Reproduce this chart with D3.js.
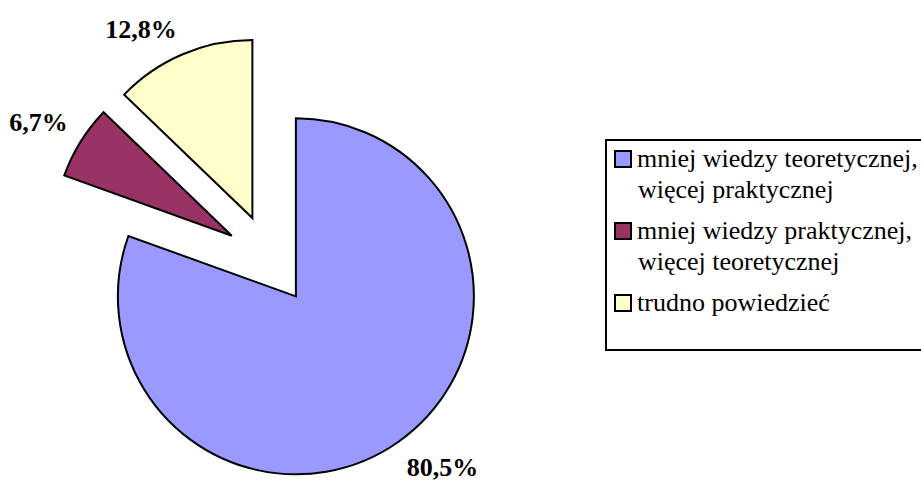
<!DOCTYPE html>
<html>
<head>
<meta charset="utf-8">
<script src="https://cdn.jsdelivr.net/npm/d3@7"></script>
</head>
<body style="margin:0; background:#ffffff">
<svg id="chart" width="921" height="481" style="display:block; font-family:'Liberation Serif'"></svg>
<script>
// Answer categories and their shares (%)
const categories = [
  ["mniej wiedzy teoretycznej,", "więcej praktycznej"],
  ["mniej wiedzy praktycznej,", "więcej teoretycznej"],
  ["trudno powiedzieć"]
];
const values = [80.5, 6.7, 12.8];
const valueLabels = ["80,5%", "6,7%", "12,8%"];
const colors = ["#9999FF", "#993366", "#FFFFCC"];

const svg = d3.select("#chart");

// Pie geometry
const cx = 270, cy = 259.5;
const radius = 178;
const explode = 45;
const labelGap = 15;

const pie = d3.pie().sort(null).value(d => d)(values);
const arc = d3.arc().innerRadius(0).outerRadius(radius);

const g = svg.append("g").attr("transform", `translate(${cx},${cy})`);

pie.forEach((p, i) => {
  const mid = (p.startAngle + p.endAngle) / 2;
  const dx = Math.sin(mid), dy = -Math.cos(mid);
  const ox = dx * explode, oy = dy * explode;

  g.append("path")
    .attr("d", arc(p))
    .attr("transform", `translate(${ox},${oy})`)
    .attr("fill", colors[i])
    .attr("stroke", "#000")
    .attr("stroke-width", 2)
    .attr("stroke-linejoin", "miter");

  // Value label just outside the slice's outer edge
  const lr = radius + labelGap;
  const ax = ox + dx * lr, ay = oy + dy * lr;
  g.append("text")
    .attr("x", ax)
    .attr("y", dy < 0 ? ay - 3 : ay + 22)
    .attr("text-anchor", dx < 0 ? "end" : "start")
    .attr("font-weight", "bold")
    .attr("font-size", 26)
    .attr("fill", "#000")
    .text(valueLabels[i]);
});

// Legend
const legend = svg.append("g");
legend.append("rect")
  .attr("x", 606).attr("y", 140)
  .attr("width", 400).attr("height", 210)
  .attr("fill", "#fff")
  .attr("stroke", "#000")
  .attr("stroke-width", 2);

const itemTop = [167, 239, 311];
const lineStep = 31;
categories.forEach((lines, i) => {
  const base = itemTop[i];
  legend.append("rect")
    .attr("x", 615).attr("y", base - 16)
    .attr("width", 16).attr("height", 16)
    .attr("fill", colors[i])
    .attr("stroke", "#000")
    .attr("stroke-width", 2);
  lines.forEach((t, j) => {
    legend.append("text")
      .attr("x", j === 0 ? 637 : 638)
      .attr("y", base + j * lineStep)
      .attr("font-size", 26)
      .attr("fill", "#000")
      .text(t);
  });
});
</script>
</body>
</html>
